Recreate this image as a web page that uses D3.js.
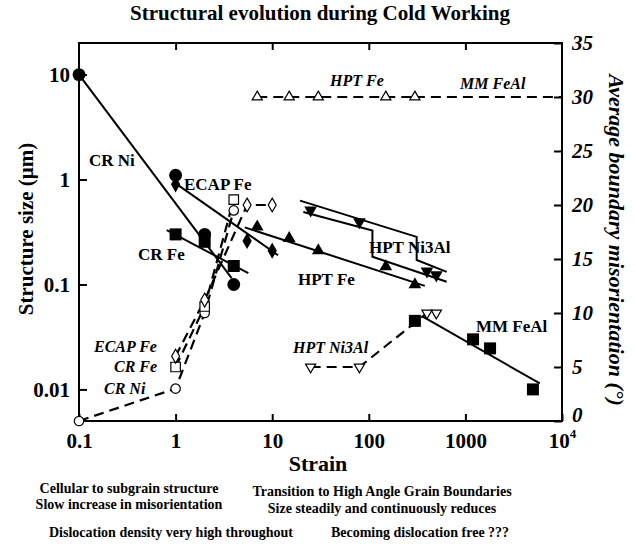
<!DOCTYPE html>
<html>
<head>
  <script src="https://d3js.org/d3.v7.min.js"></script>
  <style>
    body { margin: 0; background: #fff; }
    svg text {
      font-family: "Liberation Serif", "Times New Roman", serif;
      font-weight: bold;
      fill: #000;
    }
    .it { font-style: italic; }
    .tick text { font-size: 21px; }
    .right-axis .tick text { font-style: italic; }
  </style>
</head>
<body>
  <div id="chart"></div>

  <script>
    // axis ticks
    const xTicks = [0.1, 1, 10, 100, 1000, 10000];
    const yLeftTicks = [0.01, 0.1, 1, 10];
    const yRightTicks = [0, 5, 10, 15, 20, 25, 30, 35];

    // structure size (um) -> left axis, [strain, size]
    const crNiSize = [[0.1, 10], [1, 1.1], [2, 0.3], [4, 0.1]];
    const ecapFeSize = [[1, 0.9], [5.5, 0.26], [10, 0.21]];
    const crFeSize = [[1, 0.3], [2, 0.255], [4, 0.15]];
    const hptFeSize = [[7, 0.355], [15, 0.275], [30, 0.21], [150, 0.148], [300, 0.1]];
    const hptNi3AlSize = [[25, 0.51], [80, 0.395], [400, 0.134], [500, 0.123]];
    const mmFeAlSize = [[300, 0.045], [1200, 0.03], [1800, 0.0246], [5000, 0.01]];

    // trend lines drawn through the size data
    const crNiFit = [[0.1, 10], [3.8, 0.115]];
    const ecapFeFit = [[1, 0.92], [11.5, 0.19]];
    const crFeFit = [[0.81, 0.33], [5.66, 0.128]];
    const hptFeFit = [[5.2, 0.35], [380, 0.097]];
    const hptNi3AlUpper = [[19.4, 0.63], [313, 0.284], [313, 0.171], [640, 0.132]];
    const hptNi3AlLower = [[21, 0.49], [109, 0.326], [109, 0.184], [640, 0.106]];
    const mmFeAlFit = [[366, 0.049], [5900, 0.0114]];

    // misorientation (deg) -> right axis, [strain, angle]
    const crNiMis = [[0.1, 0], [1, 3], [2, 10], [4, 19.5]];
    const crFeMis = [[1, 5], [2, 10.6], [4, 20.5]];
    const ecapFeMis = [[1, 6], [2, 11.2], [5.5, 20], [10, 20]];
    const hptFeMis = [[7, 30], [15, 30], [30, 30], [150, 30], [300, 30]];
    const mmFeAlMis = [[300, 30], [10000, 30]];
    const hptNi3AlMis = [[25, 5], [80, 5], [400, 10], [500, 10]];

    const W = 635, H = 544;
    const plot = { left: 79, right: 562, top: 43, bottom: 421 };

    const svg = d3.select("#chart").append("svg")
      .attr("width", W)
      .attr("height", H);

    const x = d3.scaleLog().domain([0.1, 10000]).range([plot.left, plot.right]);
    const yL = d3.scaleLog().domain([0.005, 20]).range([plot.bottom, plot.top]);
    const yR = d3.scaleLinear().domain([0, 35]).range([plot.bottom, plot.top]);

    // title
    svg.append("text")
      .attr("x", 320).attr("y", 20)
      .attr("text-anchor", "middle")
      .style("font-size", "21px")
      .text("Structural evolution during Cold Working");

    // axes
    const xAxis = svg.append("g")
      .attr("transform", `translate(0,${plot.bottom})`)
      .call(d3.axisBottom(x).tickValues(xTicks).tickSizeInner(-7).tickSizeOuter(0).tickPadding(12)
        .tickFormat(d => d === 10000 ? "" : d3.format("~g")(d)));
    const t4 = xAxis.selectAll(".tick").filter(d => d === 10000).select("text");
    t4.append("tspan").text("10");
    t4.append("tspan").attr("dy", "-0.75em").style("font-size", "13px").text("4");

    svg.append("g")
      .attr("transform", `translate(0,${plot.top})`)
      .call(d3.axisTop(x).tickValues([1, 10, 100, 1000]).tickSizeInner(-7).tickSizeOuter(0).tickFormat(""));

    svg.append("g")
      .attr("transform", `translate(${plot.left},0)`)
      .call(d3.axisLeft(yL).tickValues(yLeftTicks).tickSizeInner(-8).tickSizeOuter(0).tickPadding(9)
        .tickFormat(d3.format("~g")));

    const rAxis = svg.append("g")
      .attr("class", "right-axis")
      .attr("transform", `translate(${plot.right},0)`)
      .call(d3.axisRight(yR).tickValues(yRightTicks).tickSizeInner(-8).tickSizeOuter(0).tickPadding(10));
    // the zero label sits a little higher so it clears the 10^4 label
    rAxis.selectAll(".tick").filter(d => d === 0).select("text").attr("y", -6);

    svg.selectAll(".domain").remove();
    svg.selectAll(".tick line").attr("stroke", "#000").attr("stroke-width", 2);

    svg.append("rect")
      .attr("x", plot.left).attr("y", plot.top)
      .attr("width", plot.right - plot.left).attr("height", plot.bottom - plot.top)
      .attr("fill", "none").attr("stroke", "#000").attr("stroke-width", 2);

    // axis titles
    svg.append("text")
      .attr("transform", "translate(33,229) rotate(-90)")
      .attr("text-anchor", "middle")
      .style("font-size", "21px")
      .text("Structure size (\u03bcm)");

    svg.append("text")
      .attr("class", "it")
      .attr("transform", "translate(609,240) rotate(90)")
      .attr("text-anchor", "middle")
      .style("font-size", "22px")
      .text("Average boundary misorientation (\u00b0)");

    svg.append("text")
      .attr("x", 318).attr("y", 471)
      .attr("text-anchor", "middle")
      .style("font-size", "22px")
      .text("Strain");

    // lines
    const lineL = d3.line().x(d => x(d[0])).y(d => yL(d[1]));
    const lineR = d3.line().x(d => x(d[0])).y(d => yR(d[1]));

    const solid = [crNiFit, ecapFeFit, crFeFit, hptFeFit, hptNi3AlUpper, hptNi3AlLower, mmFeAlFit];
    svg.append("g").selectAll("path")
      .data(solid)
      .enter().append("path")
        .attr("d", lineL)
        .attr("fill", "none")
        .attr("stroke", "#000")
        .attr("stroke-width", 2);

    const dashed = [crNiMis, crFeMis, ecapFeMis, hptFeMis, mmFeAlMis, hptNi3AlMis];
    svg.append("g").selectAll("path")
      .data(dashed)
      .enter().append("path")
        .attr("d", lineR)
        .attr("fill", "none")
        .attr("stroke", "#000")
        .attr("stroke-width", 2.2)
        .attr("stroke-dasharray", "10,6");

    // markers
    function markers(data, yScale, type, size, filled, rot) {
      svg.append("g").selectAll("path")
        .data(data)
        .enter().append("path")
          .attr("transform", d => `translate(${x(d[0])},${yScale(d[1])}) rotate(${rot || 0})`)
          .attr("d", d3.symbol().type(type).size(size))
          .attr("fill", filled ? "#000" : "#fff")
          .attr("stroke", "#000")
          .attr("stroke-width", filled ? 0 : 1.2);
    }

    markers(crNiSize, yL, d3.symbolCircle, 130, true);
    markers(ecapFeSize, yL, d3.symbolDiamond, 75, true);
    markers(crFeSize, yL, d3.symbolSquare, 144, true);
    markers(hptFeSize, yL, d3.symbolTriangle, 70, true);
    markers(hptNi3AlSize, yL, d3.symbolTriangle, 70, true, 180);
    markers(mmFeAlSize, yL, d3.symbolSquare, 144, true);

    markers(crNiMis, yR, d3.symbolCircle, 70, false);
    markers(crFeMis, yR, d3.symbolSquare, 90, false);
    markers(ecapFeMis, yR, d3.symbolDiamond, 55, false);
    markers(hptFeMis, yR, d3.symbolTriangle, 45, false);
    markers(hptNi3AlMis, yR, d3.symbolTriangle, 45, false, 180);

    // series labels
    const labels = [
      { t: "CR Ni", x: 89, y: 166, it: false },
      { t: "ECAP Fe", x: 184, y: 190, it: false },
      { t: "CR Fe", x: 138, y: 260, it: false },
      { t: "HPT Fe", x: 298, y: 285, it: false },
      { t: "HPT Ni3Al", x: 369, y: 253, it: false },
      { t: "MM FeAl", x: 476, y: 332, it: false },
      { t: "HPT Fe", x: 330, y: 86, it: true },
      { t: "MM FeAl", x: 460, y: 89, it: true },
      { t: "ECAP Fe", x: 94, y: 352, it: true },
      { t: "CR Fe", x: 114, y: 372, it: true },
      { t: "CR Ni", x: 104, y: 394, it: true },
      { t: "HPT Ni3Al", x: 293, y: 353, it: true }
    ];
    svg.append("g").selectAll("text")
      .data(labels)
      .enter().append("text")
        .attr("class", d => d.it ? "it" : null)
        .attr("x", d => d.x)
        .attr("y", d => d.y)
        .style("font-size", d => d.it ? "16px" : "17px")
        .text(d => d.t);

    // notes under the chart
    const notes = [
      { t: "Cellular to subgrain structure", x: 129, y: 493 },
      { t: "Slow increase in misorientation", x: 129, y: 509 },
      { t: "Transition to High Angle Grain Boundaries", x: 382, y: 496 },
      { t: "Size steadily and continuously reduces", x: 382, y: 513 },
      { t: "Dislocation density very high throughout", x: 171, y: 537 },
      { t: "Becoming dislocation free ???", x: 420, y: 537 }
    ];
    svg.append("g").selectAll("text")
      .data(notes)
      .enter().append("text")
        .attr("x", d => d.x)
        .attr("y", d => d.y)
        .attr("text-anchor", "middle")
        .style("font-size", "14px")
        .text(d => d.t);
  </script>
</body>
</html>
